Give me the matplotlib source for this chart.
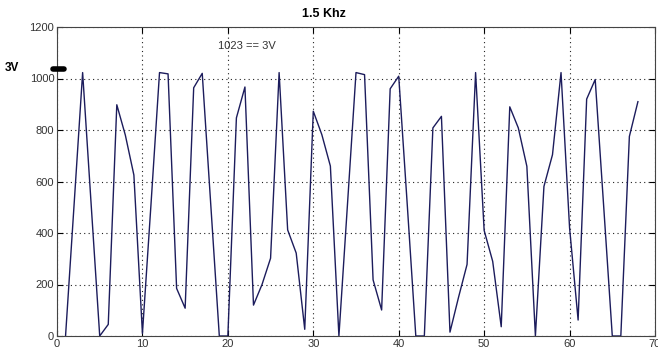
import matplotlib.pyplot as plt

plt.rcParams['font.family'] = ['Liberation Sans', 'DejaVu Sans']

samples = list(range(1, 69))
adc = [0, 510, 1023, 510, 0, 45, 898, 780, 625, 10,
       510, 1023, 1018, 185, 108, 964, 1020, 510, 0, 0,
       847, 967, 120, 200, 302, 1023, 412, 322, 26, 873,
       782, 660, 0, 510, 1023, 1015, 218, 101, 960, 1009,
       510, 0, 0, 808, 853, 15, 150, 278, 1023, 410,
       290, 36, 890, 808, 659, 0, 581, 704, 1023, 420,
       62, 920, 996, 500, 0, 0, 775, 910]
x_ticks = list(range(0, 71, 10))
y_ticks = list(range(0, 1201, 200))

fig = plt.figure(figsize=(6.58, 3.5), dpi=100)
ax = fig.add_axes([57 / 658, 14 / 350, 598 / 658, 309 / 350])

ax.plot(samples, adc, color='#1c1c5c', lw=1.0)
ax.set_xlim(0, 70)
ax.set_ylim(0, 1200)
ax.set_xticks(x_ticks)
ax.set_yticks(y_ticks)
ax.grid(True, color='#222222', linestyle=(0, (1, 3)), lw=0.8)
ax.tick_params(direction='in', top=True, right=True, length=4,
               labelsize=8, labelcolor='#333333', pad=2)
for s in ax.spines.values():
    s.set_color('#444444')

ax.text(18.8, 1125, '1023 == 3V', fontsize=8, color='#333333', va='center')
ax.plot([-0.5, 0.8], [1035, 1035], color='black', lw=4, solid_capstyle='round',
        clip_on=False, zorder=5)
fig.text(5 / 658, 1 - 68 / 350, '3V', fontsize=8.5, fontweight='bold', va='center')
fig.text(324 / 658, 1 - 14 / 350, '1.5 Khz', fontsize=9, fontweight='bold',
         ha='center', va='center')

fig.savefig('out.png', dpi=100)
